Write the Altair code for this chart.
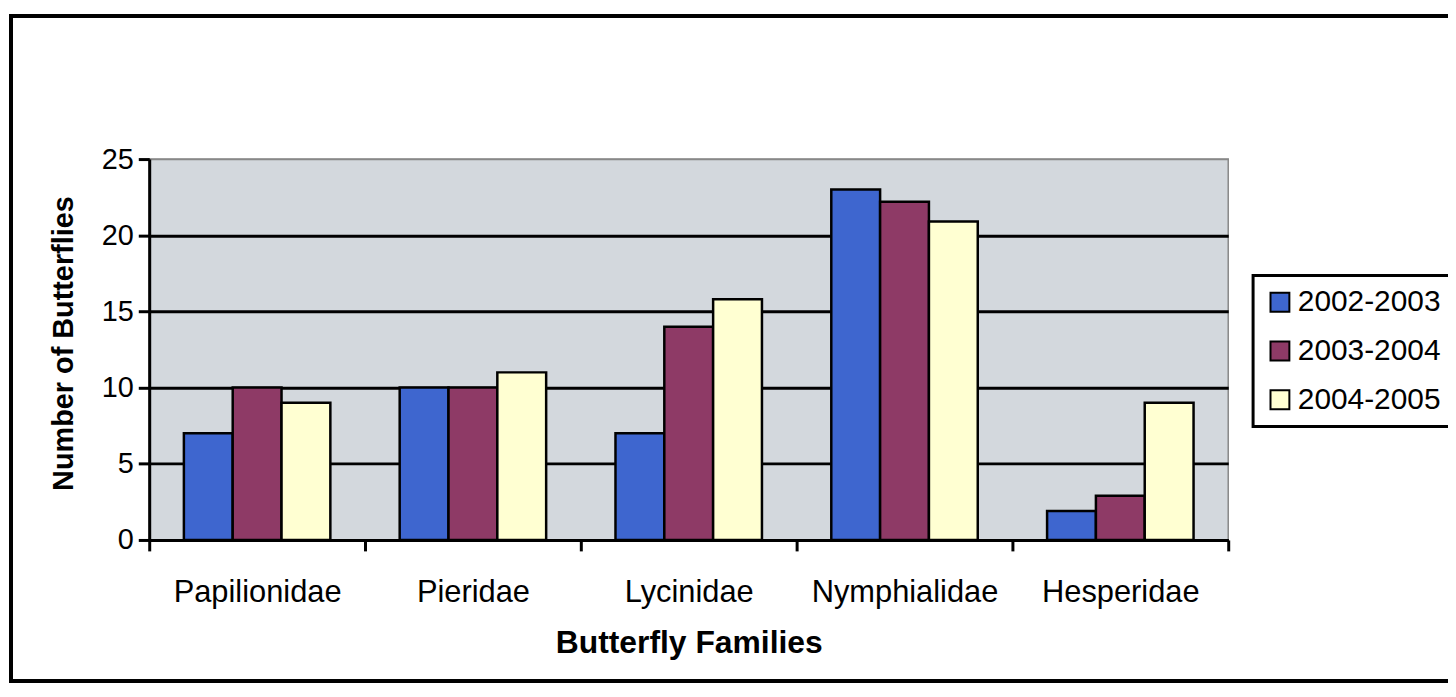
import altair as alt
import pandas as pd

families = ["Papilionidae", "Pieridae", "Lycinidae", "Nymphialidae", "Hesperidae"]
seasons = ["2002-2003", "2003-2004", "2004-2005"]
v_2002_2003 = [7, 10, 7, 23, 1.9]
v_2003_2004 = [10, 10, 14, 22.2, 2.9]
v_2004_2005 = [9, 11, 15.8, 20.9, 9]
colors = ["#3E66CF", "#8E3A66", "#FFFFD2"]

rows = []
for s, vals in zip(seasons, [v_2002_2003, v_2003_2004, v_2004_2005]):
    for f, v in zip(families, vals):
        rows.append({"family": f, "season": s, "count": v})
df = pd.DataFrame(rows)

FONT = "Liberation Sans"

bars = alt.Chart(df).mark_bar(stroke="black", strokeWidth=2.5).encode(
    x=alt.X(
        "family:N",
        sort=families,
        scale=alt.Scale(paddingInner=0, paddingOuter=0),
        axis=alt.Axis(
            title="Butterfly Families",
            labelAngle=0,
            labelFontSize=31,
            labelFont=FONT,
            labelColor="black",
            labelPadding=27,
            labelLimit=0,
            titleFontSize=32,
            titleFont=FONT,
            titleFontWeight="bold",
            titleColor="black",
            titlePadding=20,
            tickBand="extent",
            tickSize=11,
            tickWidth=3,
            tickColor="black",
            domainColor="black",
            domainWidth=3,
            grid=False,
        ),
    ),
    xOffset=alt.XOffset(
        "season:N",
        sort=seasons,
        scale=alt.Scale(paddingInner=0, paddingOuter=0.71),
    ),
    y=alt.Y(
        "count:Q",
        scale=alt.Scale(domain=[0, 25], nice=False),
        axis=alt.Axis(
            title="Number of Butterflies",
            values=[0, 5, 10, 15, 20, 25],
            labelFontSize=29,
            labelFont=FONT,
            labelColor="black",
            labelPadding=5,
            titleFontSize=29,
            titleFont=FONT,
            titleFontWeight="bold",
            titleColor="black",
            titlePadding=23,
            titleY=185,
            tickSize=11,
            tickWidth=3,
            tickColor="black",
            domainColor="black",
            domainWidth=3,
            grid=True,
            gridColor={"condition": {"test": "datum.value >= 25", "value": "#888888"}, "value": "black"},
            gridWidth={"condition": {"test": "datum.value >= 25", "value": 1.5}, "value": 3},
        ),
    ),
    fill=alt.Fill(
        "season:N",
        sort=seasons,
        scale=alt.Scale(domain=seasons, range=colors),
        legend=alt.Legend(
            title=None,
            orient="none",
            legendX=1110,
            legendY=117,
            labelFontSize=30,
            labelFont=FONT,
            labelColor="black",
            labelOffset=3,
            labelLimit=0,
            symbolType="square",
            symbolSize=360,
            symbolStrokeColor="black",
            symbolStrokeWidth=2,
            rowPadding=19,
            padding=12,
            strokeColor="black",
            fillColor="white",
        ),
    ),
)

frame = alt.Chart(df).mark_rect(
    fill=None, stroke="black", strokeWidth=3
).encode(
    x=alt.value(-139),
    x2=alt.value(1330),
    y=alt.value(-144),
    y2=alt.value(525),
)

chart = alt.layer(bars, frame).properties(
    width=1085,
    height=383,
    padding={"left": 142, "top": 150, "right": 221, "bottom": 156},
    autosize=alt.AutoSizeParams(type="none"),
    background="white",
).configure_view(
    fill="#D3D8DD",
    stroke="#888888",
    strokeWidth=1.5,
).configure_legend(
    strokeWidth=3,
)

chart.save("out.html", embed_options={"renderer": "svg", "actions": False})
